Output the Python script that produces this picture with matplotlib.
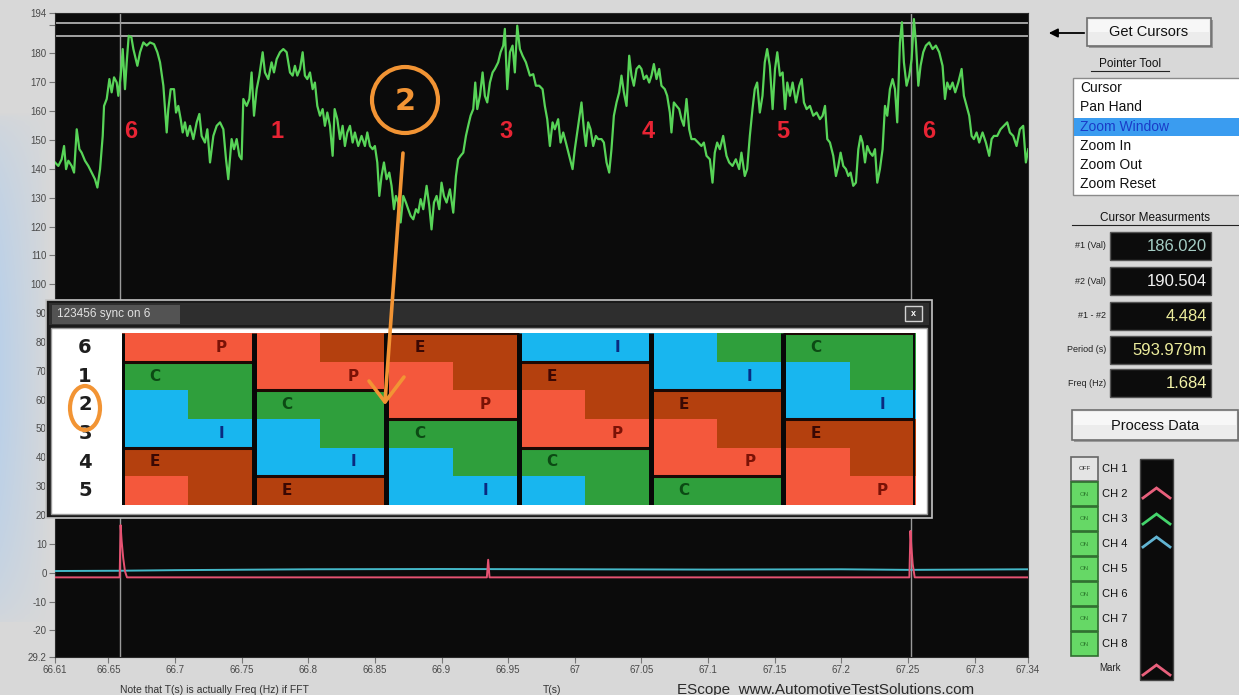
import numpy as np
import matplotlib
matplotlib.use('Agg')
import matplotlib.pyplot as plt
from matplotlib.patches import Rectangle, Circle, Ellipse
from matplotlib.colors import ListedColormap

plt.rcParams['font.family'] = ['Liberation Sans', 'DejaVu Sans']

# ---------------- data ----------------
x_ticks = [66.61, 66.65, 66.7, 66.75, 66.8, 66.85, 66.9, 66.95, 67.0, 67.05,
           67.1, 67.15, 67.2, 67.25, 67.3, 67.34]
x_ticklabels = ['66.61', '66.65', '66.7', '66.75', '66.8', '66.85', '66.9', '66.95',
                '67', '67.05', '67.1', '67.15', '67.2', '67.25', '67.3', '67.34']
y_ticks = [194, 190, 180, 170, 160, 150, 140, 130, 120, 110, 100, 90, 80, 70, 60,
           50, 40, 30, 20, 10, 0, -10, -20, -29.2]
y_ticklabels = ['194', '', '180', '170', '160', '150', '140', '130', '120', '110', '100',
                '90', '80', '70', '60', '50', '40', '30', '20', '10', '0', '-10', '-20', '29.2']

green_t = [
 66.6100,66.6125,66.6150,66.6168,66.6183,66.6200,66.6225,66.6243,66.6263,66.6283,
 66.6300,66.6325,66.6350,66.6375,66.6400,66.6418,66.6438,66.6458,66.6468,66.6488,
 66.6508,66.6525,66.6543,66.6563,66.6575,66.6593,66.6608,66.6625,66.6638,66.6653,
 66.6673,66.6688,66.6718,66.6738,66.6763,66.6788,66.6813,66.6843,66.6868,66.6888,
 66.6913,66.6938,66.6950,66.6968,66.6993,66.7008,66.7025,66.7043,66.7058,66.7075,
 66.7093,66.7113,66.7138,66.7163,66.7183,66.7200,66.7225,66.7243,66.7263,66.7288,
 66.7313,66.7338,66.7363,66.7383,66.7400,66.7425,66.7443,66.7463,66.7483,66.7500,
 66.7513,66.7538,66.7558,66.7575,66.7593,66.7613,66.7633,66.7658,66.7675,66.7700,
 66.7725,66.7743,66.7763,66.7788,66.7813,66.7838,
 66.7863,66.7883,66.7900,66.7918,66.7938,66.7958,66.7975,66.7993,66.8013,66.8033,
 66.8050,66.8068,66.8088,66.8108,66.8125,66.8143,66.8163,66.8183,66.8198,66.8218,
 66.8238,66.8258,66.8275,66.8293,66.8313,66.8333,66.8350,66.8375,66.8400,66.8425,
 66.8443,66.8463,66.8483,66.8500,66.8518,66.8533,66.8550,66.8568,66.8588,66.8608,
 66.8625,66.8643,66.8658,66.8675,66.8693,66.8713,66.8733,66.8750,66.8768,66.8788,
 66.8808,66.8825,66.8843,66.8863,66.8888,66.8908,66.8925,66.8943,66.8963,66.8983,
 66.9000,66.9018,66.9038,66.9063,66.9088,66.9108,66.9125,66.9143,66.9163,66.9183,
 66.9200,66.9218,66.9238,66.9253,66.9268,66.9288,66.9308,66.9325,66.9343,66.9363,
 66.9383,66.9400,66.9425,66.9443,66.9463,66.9475,66.9493,66.9513,66.9533,66.9550,
 66.9568,66.9588,66.9608,66.9633,
 66.9663,66.9688,66.9708,66.9733,66.9758,66.9775,66.9793,66.9813,66.9833,66.9850,
 66.9875,66.9893,66.9913,66.9933,66.9958,66.9983,67.0000,67.0025,67.0050,67.0068,
 67.0083,67.0100,67.0118,67.0138,67.0158,67.0175,67.0200,67.0218,67.0238,67.0258,
 67.0275,67.0293,67.0313,67.0333,67.0350,67.0368,67.0388,67.0408,67.0425,67.0443,
 67.0463,67.0483,67.0500,67.0518,67.0538,67.0558,67.0575,67.0593,67.0613,67.0633,
 67.0650,67.0675,67.0693,67.0713,67.0725,67.0743,67.0763,67.0783,67.0800,67.0818,
 67.0838,67.0858,67.0875,67.0900,67.0925,67.0950,67.0968,67.0988,67.1013,67.1033,
 67.1050,67.1068,67.1088,67.1113,67.1138,67.1158,67.1183,67.1208,67.1233,67.1250,
 67.1275,67.1293,67.1313,67.1333,67.1350,67.1368,67.1388,67.1408,67.1425,67.1443,
 67.1463,
 67.1484,67.1502,67.1519,67.1539,67.1559,67.1577,67.1594,67.1614,67.1634,67.1659,
 67.1684,67.1702,67.1719,67.1739,67.1764,67.1789,67.1814,67.1839,67.1859,67.1877,
 67.1894,67.1914,67.1939,67.1959,67.1977,67.1994,67.2014,67.2034,67.2052,67.2069,
 67.2089,67.2109,67.2127,67.2144,67.2159,67.2177,67.2194,67.2214,67.2234,67.2252,
 67.2269,67.2289,67.2309,67.2327,67.2344,67.2364,67.2384,67.2402,67.2419,67.2439,
 67.2454,67.2469,67.2489,67.2509,67.2527,67.2544,67.2559,67.2577,67.2594,67.2614,
 67.2634,67.2659,67.2684,67.2709,67.2734,67.2759,67.2777,67.2794,67.2814,67.2834,
 67.2854,67.2877,67.2902,67.2919,67.2939,67.2959,67.2977,67.2994,67.3014,67.3034,
 67.3059,67.3084,67.3109,67.3127,67.3144,67.3169,67.3194,67.3219,67.3244,67.3264,
 67.3289,67.3314,67.3339,67.3364,67.3384,67.3402]
green_v = [
 142.2,141.0,143.3,147.9,139.9,142.8,141.0,138.7,153.7,146.8,
 145.6,142.8,141.0,138.7,136.4,133.5,139.9,151.4,161.8,164.2,
 171.1,166.5,171.7,169.9,165.3,172.3,181.5,167.6,176.9,186.1,
 185.6,181.5,175.7,180.4,183.8,182.7,183.8,183.2,180.4,176.9,
 168.8,152.6,160.7,167.6,167.6,159.5,161.8,157.2,152.6,156.1,
 151.4,154.9,150.3,156.1,159.0,151.4,149.1,153.7,142.2,151.4,
 154.9,156.1,153.7,143.3,136.4,150.3,146.8,150.3,144.5,143.3,
 164.2,161.8,164.2,173.4,158.4,167.6,172.3,180.4,173.4,171.1,
 176.9,173.4,178.0,180.4,181.5,180.4,
 173.4,172.3,175.7,172.3,174.6,180.4,172.3,171.1,173.4,167.6,
 169.9,161.8,158.4,160.7,154.9,159.5,154.9,144.5,160.7,157.2,
 150.3,154.9,147.9,152.6,154.9,149.1,152.6,147.9,151.4,147.9,
 152.6,147.9,146.8,147.9,142.2,130.6,137.5,142.2,136.4,138.7,
 134.1,126.0,130.6,128.3,121.4,130.6,128.3,126.0,123.7,122.5,
 126.0,124.8,129.5,126.0,134.1,127.1,119.0,128.3,130.6,126.0,
 135.2,130.6,128.3,132.9,124.8,137.5,143.3,144.5,145.6,151.4,
 154.9,158.4,160.7,169.9,160.7,165.3,173.4,165.3,163.0,169.9,
 173.4,174.6,176.9,180.4,182.7,188.5,167.6,180.4,182.7,173.4,
 189.6,181.5,179.2,176.9,
 172.3,172.8,168.8,168.8,167.6,161.8,157.2,147.9,156.1,153.7,
 157.2,149.1,152.6,149.1,144.5,139.9,146.8,154.9,163.0,153.7,
 147.9,156.1,153.7,147.9,151.4,150.3,150.3,149.1,142.2,138.7,
 146.8,158.4,163.0,166.5,172.3,166.5,161.8,179.2,172.3,168.8,
 174.6,175.7,174.6,171.1,172.3,169.9,172.3,176.3,171.1,174.6,
 168.8,167.6,165.3,159.5,152.6,163.0,161.8,160.7,157.2,154.9,
 164.2,153.7,150.3,150.3,149.1,147.9,149.1,144.5,143.3,135.2,
 145.6,149.1,146.8,151.4,144.5,142.2,141.0,143.3,139.9,145.6,
 137.5,139.9,151.4,160.7,167.6,169.9,159.5,165.3,176.9,181.5,
 175.7,
 160.7,174.6,180.4,172.3,173.4,160.7,169.9,165.3,169.9,163.0,
 168.8,171.1,163.0,160.7,161.8,158.4,159.5,157.2,158.4,161.8,
 150.3,149.1,144.5,137.5,141.0,145.6,141.0,139.9,137.5,138.7,
 134.1,135.2,146.8,151.4,149.1,142.2,147.9,145.6,144.5,146.8,
 135.2,139.9,146.8,161.8,158.4,167.6,171.1,167.6,156.1,183.8,
 190.8,176.9,168.8,172.3,178.0,191.9,183.8,168.8,175.7,180.4,
 182.7,183.8,181.5,182.7,180.4,175.7,164.2,169.9,167.6,169.9,
 166.5,169.9,174.6,165.3,161.8,158.4,151.4,150.3,152.6,149.1,
 152.6,149.1,144.5,150.3,151.4,151.4,153.7,154.9,156.1,152.6,
 151.4,147.9,153.7,154.9,142.2,146.8]

cyan_t = [66.61, 66.66, 66.70, 66.80, 66.90, 67.00, 67.10, 67.20, 67.25, 67.34]
cyan_v = [0.6, 0.7, 0.9, 1.2, 1.3, 1.2, 1.1, 1.2, 1.0, 1.2]
red_t = [66.61, 66.6585, 66.6592, 66.6600, 66.6612, 66.6625, 66.6640,
         66.9340, 66.9350, 66.9360,
         67.2510, 67.2518, 67.2525, 67.2535, 67.2550, 67.34]
red_v = [-1.6, -1.6, 16.5, 11.0, 5.0, 0.5, -1.6,
         -1.6, 4.5, -1.6,
         -1.6, 14.5, 9.0, 3.0, -1.6, -1.6]

cursor_t = [66.659, 67.252]
cursor_v = [190.504, 186.020]

cyl_marks = ['6', '1', '3', '4', '5', '6']
cyl_t = [66.667, 66.7766, 66.9484, 67.0549, 67.1562, 67.2657]
cyl_v = 152.8

# inset: firing diagram (rows = cylinders, 12 half-column cells)
inset_rows = ['6', '1', '2', '3', '4', '5']
inset_strokes = [
    "PPPEEEIIICCC",
    "CCPPPEEEIIIC",
    "ICCCPPPEEEII",
    "IIICCCPPPEEE",
    "EEIIICCCPPPE",
    "PEEEIIICCCPP",
]
inset_seps = [[1, 4], [2, 5], [3, 0], [4, 1], [5, 2], [0, 3]]
inset_labels = [
    ('P', 0, '6', 'R'), ('C', 0, '1', 'L'), ('I', 0, '3', 'R'), ('E', 0, '4', 'L'),
    ('P', 1, '1', 'R'), ('C', 1, '2', 'L'), ('I', 1, '4', 'R'), ('E', 1, '5', 'L'),
    ('P', 2, '2', 'R'), ('C', 2, '3', 'L'), ('I', 2, '5', 'R'), ('E', 2, '6', 'L'),
    ('P', 3, '3', 'R'), ('C', 3, '4', 'L'), ('I', 3, '6', 'R'), ('E', 3, '1', 'L'),
    ('P', 4, '4', 'R'), ('C', 4, '5', 'L'), ('I', 4, '1', 'R'), ('E', 4, '2', 'L'),
    ('P', 5, '5', 'R'), ('C', 5, '6', 'L'), ('I', 5, '2', 'R'), ('E', 5, '3', 'L'),
]
stroke_order = ['P', 'E', 'I', 'C']
stroke_colors = {'P': '#f4583c', 'E': '#b4400e', 'I': '#18b6ef', 'C': '#2f9f3c'}
stroke_text = {'P': '#7a1206', 'E': '#3a0803', 'I': '#0a2a80', 'C': '#0c4a14'}

pointer_items = ['Cursor', 'Pan Hand', 'Zoom Window', 'Zoom In', 'Zoom Out', 'Zoom Reset']
meas_labels = ['#1 (Val)', '#2 (Val)', '#1 - #2', 'Period (s)', 'Freq (Hz)']
meas_values = ['186.020', '190.504', '4.484', '593.979m', '1.684']
meas_colors = ['#a4ccc4', '#f2f2f2', '#ecec9c', '#ecec9c', '#f2f2a8']
channels = ['CH 1', 'CH 2', 'CH 3', 'CH 4', 'CH 5', 'CH 6', 'CH 7', 'CH 8']
channel_on = [False, True, True, True, True, True, True, True]

# ---------------- figure ----------------
W, H = 1239, 695
fig = plt.figure(figsize=(W / 100, H / 100), dpi=100)
fig.patch.set_facecolor('#d8d8d8')


def pix_axes(x0, y0, x1, y1, z):
    ax = fig.add_axes([x0 / W, 1 - y1 / H, (x1 - x0) / W, (y1 - y0) / H])
    ax.set_zorder(z)
    return ax


def overlay(z):
    ax = fig.add_axes([0, 0, 1, 1])
    ax.set_xlim(0, W)
    ax.set_ylim(H, 0)
    ax.axis('off')
    ax.set_zorder(z)
    return ax


ax_bg = overlay(0)
ax_bg.add_patch(Rectangle((0, 0), W, H, fc='#d8d8d8', ec='none'))
# bluish glow at left edge
gy, gx = np.mgrid[0:100, 0:40]
glow = np.zeros((100, 40, 4))
glow[..., 0] = 0.70
glow[..., 1] = 0.81
glow[..., 2] = 0.93
glow[..., 3] = (1 - gx / 40.0) ** 0.9 * np.sin(np.pi * gy / 99.0) ** 0.5 * 0.75
ax_bg.imshow(glow, extent=(0, 50, 630, 110), aspect='auto', zorder=1)
ax_bg.set_xlim(0, W)
ax_bg.set_ylim(H, 0)

# ---------------- main plot ----------------
ax = pix_axes(55, 13, 1028, 657, 1)
ax.set_facecolor('#0b0b0b')
ax.set_xlim(66.61, 67.34)
ax.set_ylim(-29.2, 194)
for s in ax.spines.values():
    s.set_color('#2a2a2a')
ax.set_xticks(x_ticks)
ax.set_xticklabels(x_ticklabels)
ax.set_yticks(y_ticks)
ax.set_yticklabels(y_ticklabels)
ax.tick_params(axis='both', direction='out', length=4, width=0.8, color='#777',
               labelsize=7, labelcolor='#4a4a4a', pad=2)

for cv in cursor_v:
    ax.axhline(cv, color='#bdbdbd', lw=1.2, zorder=2)
for ct in cursor_t:
    ax.axvline(ct, color='#9a9a9a', lw=1.0, zorder=2)

ax.plot(green_t, green_v, color='#58d458', lw=1.6, zorder=4)
ax.plot(cyan_t, cyan_v, color='#44b8c8', lw=1.4, zorder=4)
ax.plot(red_t, red_v, color='#e65272', lw=1.4, zorder=5)

for m, t in zip(cyl_marks, cyl_t):
    ax.text(t, cyl_v, m, color='#e82434', fontsize=17, fontweight='bold',
            ha='center', va='center', zorder=6)

# ---------------- inset window frame ----------------
ax_win = overlay(2)
ax_win.add_patch(Rectangle((46, 300), 886, 218, fc='#1a1a1a', ec='#c4c4c4', lw=1.2))
ax_win.add_patch(Rectangle((49, 303), 880, 22, fc='#2e2e2e', ec='none'))
ax_win.add_patch(Rectangle((52, 305), 128, 19, fc='#5a5a5a', ec='none', alpha=0.85))
ax_win.text(57, 314.5, '123456 sync on 6', color='#e2e2e2', fontsize=8.5,
            ha='left', va='center')
ax_win.add_patch(Rectangle((905, 306), 17, 15, fc='#3c3c3c', ec='#d2d2d2', lw=1))
ax_win.text(913.5, 313.5, 'x', color='white', fontsize=6.5, fontweight='bold',
            ha='center', va='center')
ax_win.add_patch(Rectangle((51, 328), 876, 186, fc='white', ec='#9a9a9a', lw=1))

# ---------------- inset grid ----------------
ax_g = pix_axes(122, 333, 915, 505, 3)
cmap = ListedColormap([stroke_colors[k] for k in stroke_order])
grid_idx = np.array([[stroke_order.index(ch) for ch in row] for row in inset_strokes])
ax_g.imshow(grid_idx, cmap=cmap, vmin=-0.5, vmax=3.5, extent=(0, 12, 6, 0),
            aspect='auto', interpolation='nearest')
ax_g.set_xlim(0, 12)
ax_g.set_ylim(6, 0)
ax_g.axis('off')
for b, rows in enumerate(inset_seps):
    for r in rows:
        ax_g.hlines(r, 2 * b, 2 * b + 2, color='#1c0804', lw=2.2)
ax_g.vlines(range(0, 13, 2), 0, 6, color='#080808', lw=3.6)
for letter, b, rl, half in inset_labels:
    r = inset_rows.index(rl)
    x = 2 * b + (0.5 if half == 'L' else 1.5)
    ax_g.text(x, r + 0.5, letter, color=stroke_text[letter], fontsize=11,
              fontweight='bold', ha='center', va='center', family='DejaVu Sans')
for i, rl in enumerate(inset_rows):
    ax_g.text(-0.56, i + 0.5, rl, color='#1e1e1e', fontsize=14, fontweight='bold',
              ha='center', va='center', clip_on=False, family='DejaVu Sans')

# ---------------- annotations on top ----------------
ax_top = overlay(4)
orange = '#f29434'
ax_top.add_patch(Circle((405, 100), 33, fill=False, ec=orange, lw=3))
ax_top.text(405, 101, '2', color=orange, fontsize=22, fontweight='bold',
            ha='center', va='center', family='DejaVu Sans')
ax_top.plot([403, 385], [153, 402], color=orange, lw=2.6, solid_capstyle='round')
ax_top.plot([369, 385, 404], [381, 402, 377], color=orange, lw=2.6,
            solid_capstyle='round', solid_joinstyle='round')
ax_top.add_patch(Ellipse((85, 408), 30, 44, fill=False, ec=orange, lw=3))

# ---------------- right panel ----------------
def button(x0, y0, x1, y1, label, fs):
    ax_bg.add_patch(Rectangle((x0 + 2, y0 + 2), x1 - x0, y1 - y0, fc='#9a9a9a', ec='none'))
    ax_bg.add_patch(Rectangle((x0, y0), x1 - x0, y1 - y0, fc='#ececec', ec='#6e6e6e', lw=1.2))
    ax_bg.add_patch(Rectangle((x0 + 2, y0 + 2), x1 - x0 - 4, (y1 - y0) / 2 - 2,
                              fc='#f7f7f7', ec='none'))
    ax_bg.text((x0 + x1) / 2, (y0 + y1) / 2 + 0.5, label, fontsize=fs, color='#111',
               ha='center', va='center')


ax_bg.annotate('', xy=(1046, 33), xytext=(1087, 33),
               arrowprops=dict(arrowstyle='-|>', color='black', lw=1.3, mutation_scale=13))
button(1087, 18, 1211, 46, 'Get Cursors', 10.5)

ax_bg.text(1130, 64, 'Pointer Tool', fontsize=8.5, color='#111', ha='center', va='center')
ax_bg.plot([1091, 1169], [70.5, 70.5], color='#222', lw=0.8)
ax_bg.add_patch(Rectangle((1073, 78), 170, 117, fc='white', ec='#8a8a8a', lw=1))
ax_bg.add_patch(Rectangle((1074, 117.5), 170, 18.5, fc='#3a9cf0', ec='none'))
for i, item in enumerate(pointer_items):
    y = 88 + i * 19.3
    col = '#1a3cc8' if item == 'Zoom Window' else '#111'
    ax_bg.text(1080, y, item, fontsize=10, color=col, ha='left', va='center')

ax_bg.text(1155, 218, 'Cursor Measurments', fontsize=8.5, color='#111', ha='center', va='center')
ax_bg.plot([1072, 1238], [224.5, 224.5], color='#222', lw=0.8)
meas_y = [246, 281, 316, 350, 383]
for lab, val, col, y in zip(meas_labels, meas_values, meas_colors, meas_y):
    ax_bg.text(1106, y, lab, fontsize=6.5, color='#222', ha='right', va='center')
    ax_bg.add_patch(Rectangle((1110, y - 14), 101, 28, fc='#0c0c0c', ec='#555', lw=1))
    ax_bg.text(1207, y + 0.5, val, fontsize=12, color=col, ha='right', va='center')

button(1072, 410, 1238, 440, 'Process Data', 10.5)

for i, (ch, on) in enumerate(zip(channels, channel_on)):
    y0 = 457 + i * 25
    fc = '#66d866' if on else '#e4e4e4'
    ec = '#2e6e2e' if on else '#666'
    ax_bg.add_patch(Rectangle((1071, y0), 27, 24, fc=fc, ec=ec, lw=1.2))
    ax_bg.text(1084.5, y0 + 12, 'ON' if on else 'OFF', fontsize=4.5,
               color='#2e7d2e' if on else '#333', ha='center', va='center')
    ax_bg.text(1102, y0 + 12, ch, fontsize=8, color='#111', ha='left', va='center')
ax_bg.text(1099, 668, 'Mark', fontsize=7, color='#222', ha='left', va='center')

ax_bg.add_patch(Rectangle((1140, 459), 33, 221, fc='#0b0b0b', ec='#444', lw=1))
for yc, col in zip([492, 518, 541, 669], ['#e8607c', '#44d46c', '#62b4d2', '#e8607c']):
    ax_bg.plot([1143, 1156.5, 1170], [yc + 6, yc - 4, yc + 6], color=col, lw=2,
               solid_joinstyle='miter')

# ---------------- bottom texts ----------------
ax_bg.text(120, 690, 'Note that T(s) is actually Freq (Hz) if FFT', fontsize=7.5,
           color='#333', ha='left', va='center')
ax_bg.text(543, 690, 'T(s)', fontsize=7.5, color='#333', ha='left', va='center')
ax_bg.text(677, 690, 'EScope  www.AutomotiveTestSolutions.com', fontsize=11,
           color='#2a2a2a', ha='left', va='center')

fig.savefig('out.png', dpi=100, facecolor=fig.get_facecolor())
